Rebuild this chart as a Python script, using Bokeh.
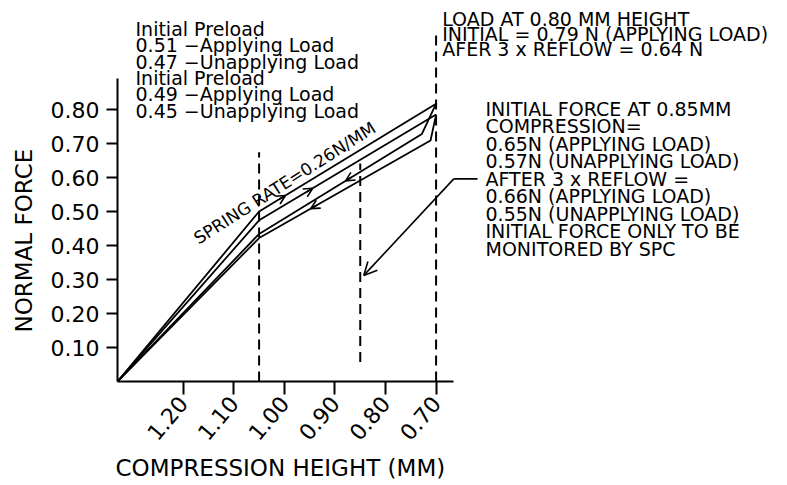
import numpy as np
from bokeh.plotting import figure
from bokeh.models import Range1d, FixedTicker, PrintfTickFormatter, Label, Arrow, OpenHead, ColumnDataSource, Title
from bokeh.core.properties import value
from bokeh.embed import file_html
from bokeh.resources import INLINE

# ---------------- data ----------------
x_ticks = [1.20, 1.10, 1.00, 0.90, 0.80, 0.70]
y_ticks = [0.10, 0.20, 0.30, 0.40, 0.50, 0.60, 0.70, 0.80]

# applying / unapplying load curves (compression height mm, normal force N)
apply1_x = [1.33, 1.05, 0.70]
apply1_y = [0.0, 0.500, 0.817]
apply2_x = [1.33, 1.05, 0.70]
apply2_y = [0.0, 0.474, 0.785]
unapply1_x = [0.70, 0.728, 1.05, 1.33]
unapply1_y = [0.817, 0.728, 0.434, 0.0]
unapply2_x = [0.70, 0.711, 1.05, 1.33]
unapply2_y = [0.785, 0.709, 0.422, 0.0]

# direction arrows on the curves (x position, +1 = towards smaller height)
arrow_at = [0.998, 0.944, 0.879, 0.948]
arrow_dir = [1, 1, -1, -1]

# dashed reference heights
ref_x = [1.05, 0.85, 0.70]
ref_y0 = [0.0, 0.057, 0.0]
ref_y1 = [0.674, 0.641, 1.03]

# leader arrow of the note
leader_x = [0.618, 0.665, 0.843]
leader_y = [0.596, 0.596, 0.312]

legend_lines = ["Initial  Preload", "0.51  \u2212Applying  Load", "0.47  \u2212Unapplying  Load",
                "Initial  Preload", "0.49  \u2212Applying  Load", "0.45  \u2212Unapplying  Load"]
top_note = ["LOAD  AT  0.80  MM  HEIGHT", "INITIAL  =  0.79  N  (APPLYING  LOAD)",
            "AFER  3  x  REFLOW  =  0.64  N"]
right_note = ["INITIAL  FORCE  AT  0.85MM", "COMPRESSION=", "0.65N  (APPLYING  LOAD)",
              "0.57N  (UNAPPLYING  LOAD)", "AFTER  3  x  REFLOW  =", "0.66N  (APPLYING  LOAD)",
              "0.55N  (UNAPPLYING  LOAD)", "INITIAL  FORCE  ONLY  TO  BE", "MONITORED  BY  SPC"]

# ---------------- layout helpers ----------------
X0, PXU = 1.33, 505.7     # data x at frame left, pixels per mm
PYU = 340.0               # pixels per N
W, H = 787, 485
LEFT, AXIS_Y = 117, 381
BOTTOM = H - AXIS_Y
FW, FH = W - LEFT, AXIS_Y

def px2x(px):  # pixel -> data x
    return X0 - (px - LEFT) / PXU

def py2y(py):  # pixel -> data y
    return (AXIS_Y - py) / PYU

FONT = value("DejaVu Sans")

p = figure(width=W, height=H, output_backend="svg", toolbar_location=None,
           x_range=Range1d(X0, X0 - FW / PXU), y_range=Range1d(0, FH / PYU),
           min_border_left=LEFT, min_border_right=0, min_border_top=0, min_border_bottom=BOTTOM)
p.outline_line_color = None
p.grid.visible = False
p.background_fill_color = "white"
p.border_fill_color = "white"

for ax, ticks, b in ((p.xaxis, x_ticks, (0.665, X0)), (p.yaxis, y_ticks, (0, 0.891))):
    ax.ticker = FixedTicker(ticks=ticks)
    ax.formatter = PrintfTickFormatter(format="%.2f")
    ax.bounds = b
    ax.axis_line_width = 2
    ax.axis_line_color = "black"
    ax.major_tick_line_width = 2
    ax.major_tick_line_color = "black"
    ax.major_tick_in = 0
    ax.minor_tick_line_color = None
    ax.major_label_text_font = "DejaVu Sans"
    ax.major_label_text_font_size = "22px"
    ax.major_label_text_color = "black"
p.xaxis.major_tick_out = 13
p.yaxis.major_tick_out = 11
p.xaxis.major_label_orientation = 0.87
p.xaxis.major_label_standoff = 5
p.yaxis.major_label_standoff = 7

# axis titles
p.add_layout(Title(text="COMPRESSION  HEIGHT  (MM)", align="left", offset=-2, standoff=4,
                   text_font="DejaVu Sans", text_font_size="23px", text_font_style="normal",
                   text_color="black"), "below")
p.add_layout(Title(text="NORMAL  FORCE", align="left", offset=49, standoff=18, vertical_align="top",
                   text_font="DejaVu Sans", text_font_size="23px", text_font_style="normal",
                   text_color="black"), "left")

curves = [(apply1_x, apply1_y), (apply2_x, apply2_y), (unapply1_x, unapply1_y), (unapply2_x, unapply2_y)]
for cx, cy in curves:
    p.line(cx, cy, line_color="black", line_width=1.8)

for (cx, cy), xa, d in zip(curves, arrow_at, arrow_dir):
    xs = np.array(cx)
    ys = np.array(cy)
    order = np.argsort(xs)
    xstart = xa + 0.012 * d
    y_s = float(np.interp(xstart, xs[order], ys[order]))
    y_e = float(np.interp(xa, xs[order], ys[order]))
    p.add_layout(Arrow(end=OpenHead(size=9, line_width=1.6, line_color="black"),
                       x_start=xstart, y_start=y_s, x_end=xa, y_end=y_e,
                       line_width=1.6, line_color="black"))

p.segment(x0=ref_x, y0=ref_y0, x1=ref_x, y1=ref_y1, line_color="black",
          line_width=2, line_dash="10 6")

p.line(leader_x[:2], leader_y[:2], line_color="black", line_width=1.6)
p.add_layout(Arrow(end=OpenHead(size=13, line_width=1.6, line_color="black"),
                   x_start=leader_x[1], y_start=leader_y[1], x_end=leader_x[2], y_end=leader_y[2],
                   line_width=1.6, line_color="black"))

def text_block(lines, px, py0, dpy, size):
    src = ColumnDataSource(dict(x=[px2x(px)] * len(lines),
                                y=[py2y(py0 + i * dpy) for i in range(len(lines))],
                                t=lines))
    p.text(x="x", y="y", text="t", source=src, text_font=FONT, text_font_size=value(size),
           text_color="black", text_align="left", text_baseline="alphabetic")

text_block(legend_lines, 135, 28.3, 16.35, "19px")
text_block(top_note, 441.7, 18.5, 15, "19px")
text_block(right_note, 485, 108.3, 17.5, "19px")

p.add_layout(Label(x=px2x(195), y=py2y(239.3), text="SPRING  RATE=0.26N/MM", angle=np.radians(32.5),
                   text_font="DejaVu Sans", text_font_size="17px", text_color="black",
                   text_align="left", text_baseline="alphabetic"))

open("out.html", "w").write(file_html(p, INLINE))
